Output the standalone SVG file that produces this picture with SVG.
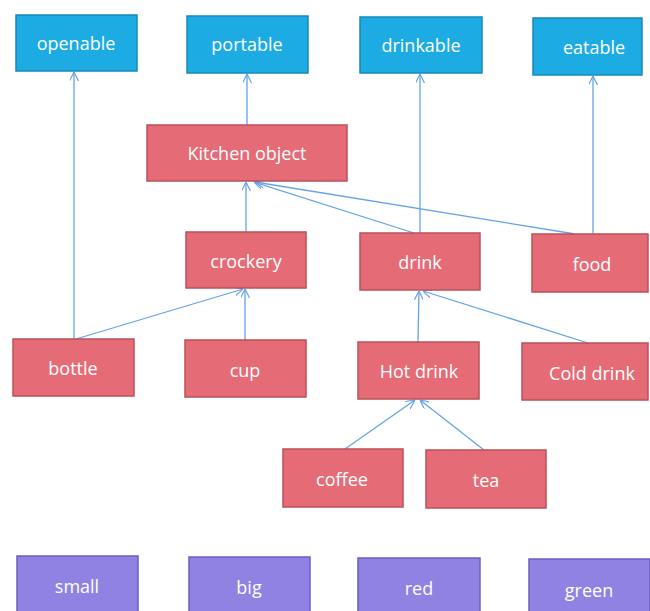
<svg xmlns="http://www.w3.org/2000/svg" width="650" height="611" viewBox="0 0 650 611">
<style>
.b{fill:#1cabe2;stroke:#1788b8;stroke-width:1.5}
.r{fill:#e56c77;stroke:#b9505a;stroke-width:1.5}
.p{fill:#8f82e3;stroke:#6c5fc0;stroke-width:1.5}
text{font-family:"Open Sans","Liberation Sans",sans-serif;font-size:18px;fill:#ffffff;text-anchor:middle;dominant-baseline:central}
.c line{stroke:#62a3e8;stroke-width:1.3;fill:none;marker-end:url(#a)}
</style>
<defs>
<marker id="a" viewBox="0 0 10 10" refX="10" refY="5" markerWidth="9" markerHeight="9" orient="auto" markerUnits="userSpaceOnUse">
<path d="M0,0 L10,5 L0,10" fill="none" stroke="#62a3e8" stroke-width="1.3"/>
</marker>
</defs>
<rect width="650" height="611" fill="#ffffff"/>
<g class="c">
<line x1="74" y1="339" x2="74" y2="72"/>
<line x1="76" y1="339" x2="243" y2="289"/>
<line x1="245" y1="340" x2="245" y2="289"/>
<line x1="246" y1="232" x2="246" y2="182"/>
<line x1="247" y1="125" x2="247" y2="74"/>
<line x1="414" y1="233" x2="254" y2="182"/>
<line x1="575" y1="234" x2="255" y2="182"/>
<line x1="420" y1="233" x2="420" y2="74"/>
<line x1="593" y1="234" x2="593" y2="76"/>
<line x1="418" y1="342" x2="419" y2="291"/>
<line x1="588" y1="343" x2="423" y2="291"/>
<line x1="345" y1="449" x2="415" y2="400"/>
<line x1="484" y1="450" x2="420" y2="400"/>
</g>
<g id="openable"><rect class="b" x="16" y="15" width="121" height="56"/><text x="76" y="43">openable</text></g>
<g id="portable"><rect class="b" x="187" y="16" width="121" height="57"/><text x="247" y="44">portable</text></g>
<g id="drinkable"><rect class="b" x="360" y="17" width="122" height="56"/><text x="421" y="45">drinkable</text></g>
<g id="eatable"><rect class="b" x="533" y="18" width="109" height="57"/><text x="594" y="47">eatable</text></g>
<g id="kitchen"><rect class="r" x="147" y="125" width="200" height="56"/><text x="247" y="153">Kitchen object</text></g>
<g id="crockery"><rect class="r" x="186" y="232" width="120" height="56"/><text x="246" y="261">crockery</text></g>
<g id="drink"><rect class="r" x="360" y="233" width="120" height="57"/><text x="420" y="262">drink</text></g>
<g id="food"><rect class="r" x="532" y="234" width="116" height="58"/><text x="592" y="264">food</text></g>
<g id="bottle"><rect class="r" x="13" y="339" width="121" height="57"/><text x="73" y="368">bottle</text></g>
<g id="cup"><rect class="r" x="185" y="340" width="121" height="57"/><text x="245" y="370">cup</text></g>
<g id="hotdrink"><rect class="r" x="358" y="342" width="121" height="57"/><text x="419" y="371">Hot drink</text></g>
<g id="colddrink"><rect class="r" x="522" y="343" width="126" height="57"/><text x="592" y="373">Cold drink</text></g>
<g id="coffee"><rect class="r" x="283" y="449" width="120" height="58"/><text x="342" y="479">coffee</text></g>
<g id="tea"><rect class="r" x="426" y="450" width="120" height="58"/><text x="486" y="480">tea</text></g>
<g id="small"><rect class="p" x="17" y="556" width="121" height="60"/><text x="77" y="586">small</text></g>
<g id="big"><rect class="p" x="189" y="557" width="121" height="59"/><text x="249" y="587">big</text></g>
<g id="red"><rect class="p" x="358" y="558" width="122" height="58"/><text x="419" y="588">red</text></g>
<g id="green"><rect class="p" x="529" y="559" width="121" height="57"/><text x="589" y="590">green</text></g>
</svg>
